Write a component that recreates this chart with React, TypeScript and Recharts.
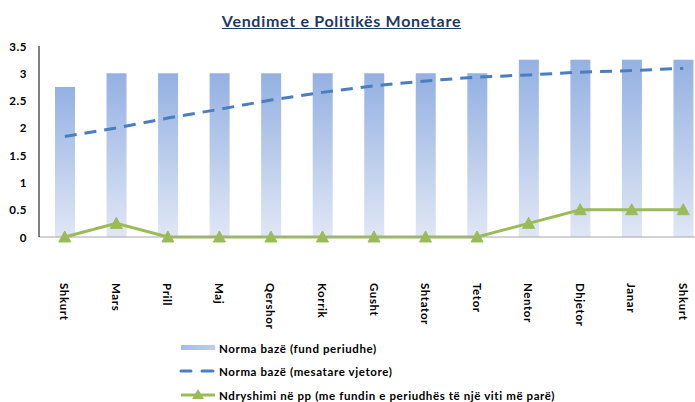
import React from 'react';
import { ComposedChart, Bar, Line, XAxis, YAxis, Legend } from 'recharts';

const categories = ['Shkurt', 'Mars', 'Prill', 'Maj', 'Qershor', 'Korrik', 'Gusht', 'Shtator', 'Tetor', 'Nentor', 'Dhjetor', 'Janar', 'Shkurt'];
const fundPeriudhe = [2.75, 3, 3, 3, 3, 3, 3, 3, 3, 3.25, 3.25, 3.25, 3.25];
const mesatareVjetore = [1.84, 2.0, 2.18, 2.34, 2.51, 2.65, 2.77, 2.86, 2.93, 2.97, 3.02, 3.05, 3.09];
const ndryshimi = [0, 0.25, 0, 0, 0, 0, 0, 0, 0, 0.25, 0.5, 0.5, 0.5];
const yTicks = [0, 0.5, 1, 1.5, 2, 2.5, 3, 3.5];
const seriesNames = [
  'Norma bazë (fund periudhe)',
  'Norma bazë (mesatare vjetore)',
  'Ndryshimi në pp (me fundin e periudhës të një viti më parë)',
];
const title = 'Vendimet e Politikës Monetare';

const data = categories.map((c, i) => ({
  idx: i,
  name: c,
  fund: fundPeriudhe[i],
  mesatare: mesatareVjetore[i],
  ndryshimi: ndryshimi[i],
}));

const FONT = 'Lato, "Open Sans", sans-serif';
const GREEN = '#9BBB59';
const BLUE = '#4A7EBF';
const LS = 0.6;

const XTick = (props: any) => {
  const { x, payload } = props;
  return (
    <text
      x={0}
      y={0}
      transform={`translate(${x},283) rotate(90)`}
      textAnchor="start"
      dominantBaseline="central"
      fontFamily={FONT}
      fontWeight={700}
      fontSize={11.5}
      letterSpacing={LS}
      fill="#000"
    >
      {categories[payload.value]}
    </text>
  );
};

const YTick = (props: any) => {
  const { y, payload } = props;
  return (
    <text
      x={27}
      y={y}
      textAnchor="end"
      dominantBaseline="central"
      fontFamily={FONT}
      fontWeight={700}
      fontSize={11.5}
      letterSpacing={LS}
      fill="#000"
    >
      {payload.value}
    </text>
  );
};

const Triangle = (props: any) => {
  const { cx, cy, index } = props;
  if (cx == null || cy == null) return <g key={`t-${index}`} />;
  return (
    <path
      key={`t-${index}`}
      d={`M${cx},${cy - 6} L${cx + 6},${cy + 5} L${cx - 6},${cy + 5} Z`}
      fill={GREEN}
      stroke={GREEN}
      strokeWidth={1}
    />
  );
};

const legendText = (y: number, s: string) => (
  <text
    x={219}
    y={y}
    dominantBaseline="central"
    fontFamily={FONT}
    fontWeight={700}
    fontSize={11.5}
    letterSpacing={LS}
    fill="#000"
  >
    {s}
  </text>
);

const renderLegend = () => (
  <svg width={709} height={66} style={{ display: 'block' }}>
    <defs>
      <linearGradient id="legBar" x1="0" y1="0" x2="1" y2="0">
        <stop offset="0%" stopColor="#A3BCE8" />
        <stop offset="100%" stopColor="#BDCFEF" />
      </linearGradient>
    </defs>
    <rect x={181} y={7} width={34} height={5} fill="url(#legBar)" />
    {legendText(10, seriesNames[0])}
    <line x1={181} y1={33} x2={191} y2={33} stroke={BLUE} strokeWidth={3} strokeLinecap="round" />
    <line x1={202} y1={33} x2={213} y2={33} stroke={BLUE} strokeWidth={3} strokeLinecap="round" />
    {legendText(33, seriesNames[1])}
    <line x1={181} y1={57} x2={215} y2={57} stroke={GREEN} strokeWidth={3} />
    <path d="M198,51 L204,61 L192,61 Z" fill={GREEN} />
    {legendText(57, seriesNames[2])}
  </svg>
);

export default function App() {
  return (
    <div
      style={{
        position: 'absolute',
        left: 0,
        top: 0,
        width: 695,
        height: 402,
        overflow: 'hidden',
        background: '#fff',
      }}
    >
      <div
        style={{
          position: 'absolute',
          left: 0,
          top: 11,
          width: 683,
          textAlign: 'center',
          fontFamily: FONT,
          fontWeight: 700,
          fontSize: 16,
          letterSpacing: 0.7,
          color: '#1F3864',
          textDecoration: 'underline',
          lineHeight: '20px',
          zIndex: 2,
        }}
      >
        {title}
      </div>
      <ComposedChart
        width={709}
        height={402}
        data={data}
        margin={{ top: 46, right: 0, bottom: 0, left: 0 }}
        barCategoryGap={0}
      >
        <defs>
          <linearGradient id="barGrad" x1="0" y1="0" x2="0" y2="1">
            <stop offset="0%" stopColor="#94B1E2" />
            <stop offset="100%" stopColor="#E0E7F5" />
          </linearGradient>
        </defs>
        <XAxis
          dataKey="idx"
          type="category"
          height={165}
          axisLine={{ stroke: '#A6A6A6', strokeWidth: 1 }}
          tickLine={false}
          tick={<XTick />}
          interval={0}
        />
        <YAxis
          width={39}
          domain={[0, 3.5]}
          ticks={yTicks}
          axisLine={{ stroke: '#000', strokeWidth: 1 }}
          tickLine={false}
          tick={<YTick />}
          interval={0}
        />
        <Legend
          layout="horizontal"
          verticalAlign="middle"
          align="center"
          content={renderLegend}
          wrapperStyle={{ top: 338, left: 0, width: 709, height: 66 }}
        />
        <Bar dataKey="fund" name={seriesNames[0]} barSize={20} fill="url(#barGrad)" isAnimationActive={false} />
        <Line
          dataKey="mesatare"
          name={seriesNames[1]}
          type="linear"
          stroke={BLUE}
          strokeWidth={3}
          strokeDasharray="12 8"
          dot={false}
          activeDot={false}
          isAnimationActive={false}
        />
        <Line
          dataKey="ndryshimi"
          name={seriesNames[2]}
          type="linear"
          stroke={GREEN}
          strokeWidth={3}
          dot={Triangle}
          activeDot={false}
          isAnimationActive={false}
        />
      </ComposedChart>
    </div>
  );
}
